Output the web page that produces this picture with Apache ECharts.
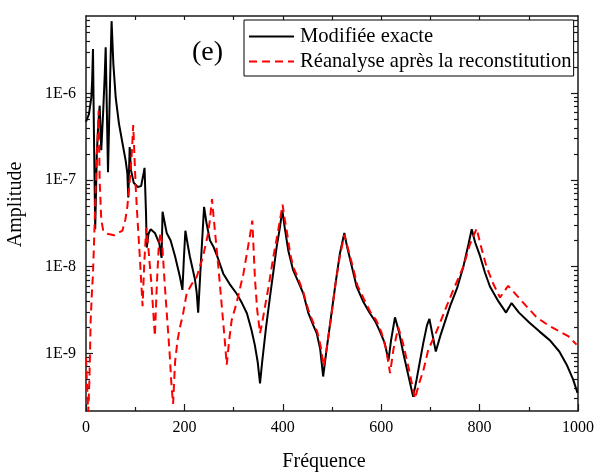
<!DOCTYPE html>
<html>
<head>
<meta charset="utf-8">
<script src="https://cdn.jsdelivr.net/npm/echarts@6/dist/echarts.min.js"></script>
<style>
  html, body { margin: 0; padding: 0; background: #fff; }
  #chart { width: 597px; height: 472px; }
</style>
</head>
<body>
<div id="chart"></div>
<script>
// Frequency response amplitudes, [frequency, amplitude]
const exactFreq = [0, 6, 10.8, 12.5, 14.2, 16, 18.7, 22, 25, 27.8, 31, 35, 38, 40, 44.7, 48, 50, 52,
  55.6, 60.4, 67, 74, 80.7, 84, 86, 88.8, 91.5, 97, 105, 112, 117.5, 119, 122, 123.5, 127, 131.5,
  140, 149, 153.6, 155.6, 164, 172, 181, 191, 196, 199, 202, 206, 211, 221.5, 225, 228, 234, 240,
  245, 252, 259, 268, 279, 292, 306, 317, 327, 336, 343, 349, 353.7, 358, 366, 374, 381, 387.6,
  394, 399, 404, 411, 421, 432, 441.7, 452, 462, 469, 476, 482, 488, 499, 507, 516, 525, 531, 537,
  550, 563, 577, 588, 597.6, 607, 614.8, 620, 628, 636, 645, 655, 665, 672, 685.6, 693, 698, 704,
  711, 720, 740, 754, 767, 777, 784, 791, 801, 811, 821, 838, 853.7, 865, 880, 902, 922, 943, 962,
  977, 990, 999];
const exactAmp = [4.7e-7, 5.75e-7, 8.9e-7, 1.41e-6, 3.24e-6, 4.0e-7, 2.7e-8, 2.0e-7, 4.5e-7, 7.2e-7,
  2.2e-7, 6.3e-7, 1.58e-6, 3.4e-6, 1.23e-7, 7.9e-7, 2.5e-6, 6.8e-6,
  2.19e-6, 8.9e-7, 4.47e-7, 2.69e-7, 1.66e-7, 1.2e-7, 6.3e-8, 2.4e-7, 1.29e-7, 9.3e-8, 8.3e-8,
  8.5e-8, 1.23e-7, 1.38e-7, 4.1e-8, 1.66e-8, 2.4e-8, 2.7e-8,
  2.45e-8, 1.86e-8, 1.26e-8, 4.3e-8, 2.45e-8, 2.0e-8, 1.32e-8, 7.6e-9, 5.4e-9, 1.26e-8, 2.6e-8,
  1.9e-8, 1.32e-8, 7.1e-9, 5.0e-9, 2.95e-9, 1.26e-8, 4.9e-8,
  3.16e-8, 2.0e-8, 1.7e-8, 1.26e-8, 8.3e-9, 6.3e-9, 4.9e-9, 3.8e-9, 2.9e-9, 1.9e-9, 1.26e-9,
  7.9e-10, 4.5e-10, 7.9e-10, 2.0e-9, 4.5e-9, 8.9e-9, 1.7e-8,
  2.8e-8, 4.5e-8, 2.8e-8, 1.55e-8, 9.1e-9, 6.6e-9, 4.9e-9, 2.9e-9, 2.1e-9, 1.7e-9, 1.12e-9,
  5.4e-10, 1.0e-9, 2.9e-9, 6.3e-9, 1.41e-8, 2.45e-8, 1.66e-8, 1.2e-8,
  5.9e-9, 4.0e-9, 2.9e-9, 2.34e-9, 1.78e-9, 1.32e-9, 8.3e-10, 1.41e-9, 2.6e-9, 1.78e-9, 1.0e-9,
  5.6e-10, 3.16e-10, 5.0e-10, 1.32e-9, 2.1e-9, 2.5e-9, 1.66e-9,
  1.05e-9, 1.58e-9, 3.5e-9, 5.6e-9, 1.0e-8, 1.78e-8, 2.7e-8, 1.9e-8, 1.32e-8, 8.5e-9, 5.9e-9,
  4.0e-9, 2.95e-9, 3.8e-9, 2.95e-9, 2.24e-9, 1.78e-9, 1.41e-9, 1.05e-9,
  7.4e-10, 5.0e-10, 3.5e-10];

const reanFreq = [0, 2, 4.5, 7, 9.5, 12, 14.2, 16.5, 20.5, 23, 25.7, 27.8, 31, 35, 43.3, 57, 74, 80,
  84, 89, 93, 96, 99, 101, 104, 109, 115, 118.5, 122.5, 127, 133, 140, 144, 148, 151.5, 155, 160,
  165, 170, 173.5, 177, 181, 186, 191, 197, 204.6, 215, 225, 238, 248, 252, 256, 262, 269, 276,
  282.5, 286, 291, 296, 306, 320, 333, 338, 343.5, 348, 353.7, 358, 364, 372, 381, 390, 399.6,
  404, 408, 415, 421, 432, 442, 452, 462, 470, 477, 483, 489, 499, 507, 516, 525, 532, 540, 552,
  565, 578, 590, 600, 610, 618, 625, 634.8, 645, 655, 668.7, 677, 685.6, 695.7, 710, 719.5, 733,
  746.6, 767, 780, 794, 802, 814, 828, 841.5, 858, 875, 895, 916, 940, 963, 980, 997];
const reanAmp = [8.9e-10, 4.5e-10, 2.1e-10, 5.0e-10, 2.4e-9, 5.0e-9, 8.3e-9, 2.0e-8, 1.17e-7, 2.5e-7,
  6.3e-7, 9.8e-8, 3.5e-8, 2.6e-8, 2.4e-8, 2.3e-8, 2.6e-8, 3.5e-8,
  4.9e-8, 1.0e-7, 2.0e-7, 4.3e-7, 1.58e-7, 8.3e-8, 4.1e-8, 1.41e-8, 3.5e-9, 1.12e-8, 2.8e-8,
  1.58e-8, 6.3e-9, 1.58e-9, 6.3e-9, 1.78e-8, 2.5e-8, 1.78e-8, 6.3e-9,
  2.5e-9, 1.0e-9, 4.5e-10, 2.6e-10, 7.9e-10, 1.41e-9, 2.0e-9, 2.8e-9, 4.9e-9, 6.3e-9, 7.6e-9,
  1.32e-8, 2.4e-8, 3.5e-8, 6.0e-8, 2.6e-8, 1.0e-8, 3.5e-9,
  1.32e-9, 7.4e-10, 1.41e-9, 2.4e-9, 3.8e-9, 8.3e-9, 2.24e-8, 3.4e-8, 7.1e-9, 3.16e-9, 1.7e-9,
  2.24e-9, 3.5e-9, 6.3e-9, 1.32e-8, 2.5e-8, 5.2e-8,
  3.5e-8, 2.6e-8, 1.41e-8, 1.0e-8, 7.1e-9, 5.0e-9, 3.16e-9, 2.24e-9, 1.78e-9, 1.2e-9, 7.1e-10,
  1.12e-9, 2.8e-9, 6.3e-9, 1.32e-8, 2.34e-8, 1.66e-8, 1.12e-8, 6.0e-9,
  4.2e-9, 3.0e-9, 2.4e-9, 1.78e-9, 1.12e-9, 5.9e-10, 1.12e-9, 2.0e-9, 1.26e-9, 7.1e-10, 3.0e-10,
  4.5e-10, 6.3e-10, 1.1e-9, 1.66e-9, 2.24e-9, 3.5e-9,
  5.4e-9, 1.0e-8, 1.78e-8, 2.75e-8, 1.78e-8, 1.0e-8, 6.3e-9, 4.4e-9, 6.0e-9, 4.7e-9, 3.5e-9,
  2.6e-9, 2.1e-9, 1.78e-9, 1.58e-9, 1.26e-9];

// Axis ticks
const xMajorTicks = [0, 200, 400, 600, 800, 1000];
const xMinorTicks = [100, 300, 500, 700, 900];
const xTopTicks = [100, 200, 300, 400, 500, 600, 700, 800, 900];
const yMajorTicks = [1e-9, 1e-8, 1e-7, 1e-6];
const yMinorTicks = [3e-10, 4e-10, 5e-10, 6e-10, 7e-10, 8e-10, 9e-10,
  2e-9, 3e-9, 4e-9, 5e-9, 6e-9, 7e-9, 8e-9, 9e-9,
  2e-8, 3e-8, 4e-8, 5e-8, 6e-8, 7e-8, 8e-8, 9e-8,
  2e-7, 3e-7, 4e-7, 5e-7, 6e-7, 7e-7, 8e-7, 9e-7,
  2e-6, 3e-6, 4e-6, 5e-6, 6e-6, 7e-6];

const seriesNames = ['Modifiée exacte', 'Réanalyse après la reconstitution'];
const Y_MIN = 2.16e-10, Y_MAX = 7.8e-6;

const serif = '"Liberation Serif", "Times New Roman", serif';
const ink = '#1a1a1a';

function pairs(xs, ys) { return xs.map((x, i) => [x, ys[i]]); }

function xAxisDef(pos, ticks, len, showLine, labels) {
  return {
    type: 'value', position: pos, min: 0, max: 1000,
    axisLine: { show: showLine, onZero: false, lineStyle: { color: ink, width: 1.5 } },
    axisTick: { show: true, inside: true, length: len, customValues: ticks,
      lineStyle: { color: ink, width: 1.2 } },
    axisLabel: labels ? { show: true, customValues: ticks, margin: 9,
      color: '#000', fontSize: 16, fontFamily: serif,
      formatter: v => String(v) } : { show: false },
    splitLine: { show: false }
  };
}
function yAxisDef(pos, ticks, len, showLine, labels) {
  return {
    type: 'log', logBase: 10, position: pos, min: Y_MIN, max: Y_MAX,
    axisLine: { show: showLine, onZero: false, lineStyle: { color: ink, width: 1.5 } },
    axisTick: { show: true, inside: true, length: len, customValues: ticks,
      lineStyle: { color: ink, width: 1.2 } },
    axisLabel: labels ? { show: true, customValues: ticks, margin: 10,
      color: '#000', fontSize: 16, fontFamily: serif,
      formatter: v => '1E' + Math.round(Math.log10(v)) } : { show: false },
    splitLine: { show: false }, minorTick: { show: false }
  };
}

const chart = echarts.init(document.getElementById('chart'), null, { renderer: 'canvas' });

const xMain = xAxisDef('bottom', xMajorTicks, 7, true, true);
xMain.name = 'Fréquence';
xMain.nameLocation = 'middle';
xMain.nameGap = 41;
xMain.nameTextStyle = { color: '#000', fontSize: 20, fontFamily: serif, padding: [0, 16, 0, 0] };

const yMain = yAxisDef('left', yMajorTicks, 7, true, true);
yMain.name = 'Amplitude';
yMain.nameLocation = 'middle';
yMain.nameGap = 60;
yMain.nameTextStyle = { color: '#000', fontSize: 20, fontFamily: serif, padding: [0, 0, 0, 18] };

chart.setOption({
  animation: false,
  backgroundColor: '#fff',
  title: {
    text: '(e)', left: 187, top: 34,
    textStyle: { color: '#000', fontSize: 28, fontWeight: 'normal', fontFamily: serif }
  },
  grid: { left: 86, right: 19, top: 16, bottom: 61, containLabel: false, outerBoundsMode: 'none' },
  legend: {
    data: seriesNames, orient: 'vertical', left: 244, top: 20,
    borderColor: '#000', borderWidth: 1, padding: [6, 2, 4, 4],
    itemWidth: 45, itemHeight: 14, itemGap: 4,
    itemStyle: { color: 'rgba(0,0,0,0)', borderWidth: 0, opacity: 0 },
    textStyle: { color: '#000', fontSize: 20.6, fontFamily: serif, padding: [0, 0, 0, 1] }
  },
  xAxis: [
    xMain,
    xAxisDef('bottom', xMinorTicks, 4, false, false),
    xAxisDef('top', xTopTicks, 4, true, false)
  ],
  yAxis: [
    yMain,
    yAxisDef('left', yMinorTicks, 4, false, false),
    yAxisDef('right', yMajorTicks, 7, true, false),
    yAxisDef('right', yMinorTicks, 4, false, false)
  ],
  series: [
    {
      name: seriesNames[0], type: 'line', xAxisIndex: 0, yAxisIndex: 0,
      data: pairs(exactFreq, exactAmp), symbol: 'none', showSymbol: false, clip: true,
      lineStyle: { color: '#000', width: 2 }, itemStyle: { color: '#000' }
    },
    {
      name: seriesNames[1], type: 'line', xAxisIndex: 0, yAxisIndex: 0,
      data: pairs(reanFreq, reanAmp), symbol: 'none', showSymbol: false, clip: true,
      lineStyle: { color: '#ff0000', width: 2, type: [8, 5] }, itemStyle: { color: '#ff0000' }
    }
  ]
});
</script>
</body>
</html>
